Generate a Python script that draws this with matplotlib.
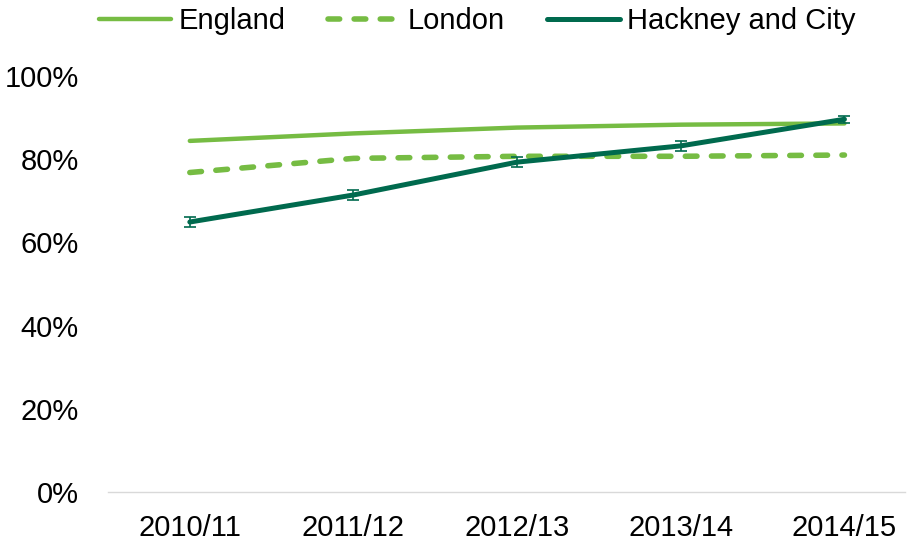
import matplotlib.pyplot as plt
import numpy as np

plt.rcParams['font.family'] = ['Liberation Sans', 'DejaVu Sans']

years = ['2010/11', '2011/12', '2012/13', '2013/14', '2014/15']
england = [84.4, 86.2, 87.6, 88.3, 88.6]
london = [76.8, 80.2, 80.7, 80.7, 81.0]
hackney = [64.9, 71.4, 79.3, 83.2, 89.6]
hackney_err = [1.3, 1.3, 1.2, 1.2, 0.8]

light = '#76bc43'
dark = '#006a4e'

fig = plt.figure(figsize=(9.09, 5.45), dpi=100)
ax = fig.add_axes([108/909, 1 - 492/545, (905 - 108)/909, (492 - 76)/545])

x = np.arange(len(years))
l1, = ax.plot(x, england, color=light, lw=3.2, label='England', solid_capstyle='round')
l2, = ax.plot(x, london, color=light, lw=4.0, ls=(0, (2.1, 2.6)), label='London',
              dash_capstyle='round')
l3, = ax.plot(x, hackney, color=dark, lw=3.6, label='Hackney and City', solid_capstyle='round')
ax.errorbar(x, hackney, yerr=hackney_err, fmt='none', ecolor=dark, elinewidth=1.2,
            capsize=4, capthick=1.2)

ax.set_xlim(-0.5, 4.37)
ax.set_ylim(0, 100)
ax.set_yticks(range(0, 101, 20))
ax.set_yticklabels([f'{v}%' for v in range(0, 101, 20)])
ax.set_xticks(x)
ax.set_xticklabels(years)
ax.tick_params(labelsize=21, length=0, colors='#000000')
ax.tick_params(axis='x', pad=16)
ax.tick_params(axis='y', pad=21)
for s in ['top', 'right', 'left']:
    ax.spines[s].set_visible(False)
ax.spines['bottom'].set_color('#d9d9d9')
ax.spines['bottom'].set_linewidth(1)

fig.legend(handles=[l1, l2, l3], loc='center', bbox_to_anchor=(477/909, 1 - 21/545), ncol=3,
           frameon=False, fontsize=21, handlelength=2.5, handletextpad=0.24, columnspacing=1.45)

fig.savefig('out.png', dpi=100)
